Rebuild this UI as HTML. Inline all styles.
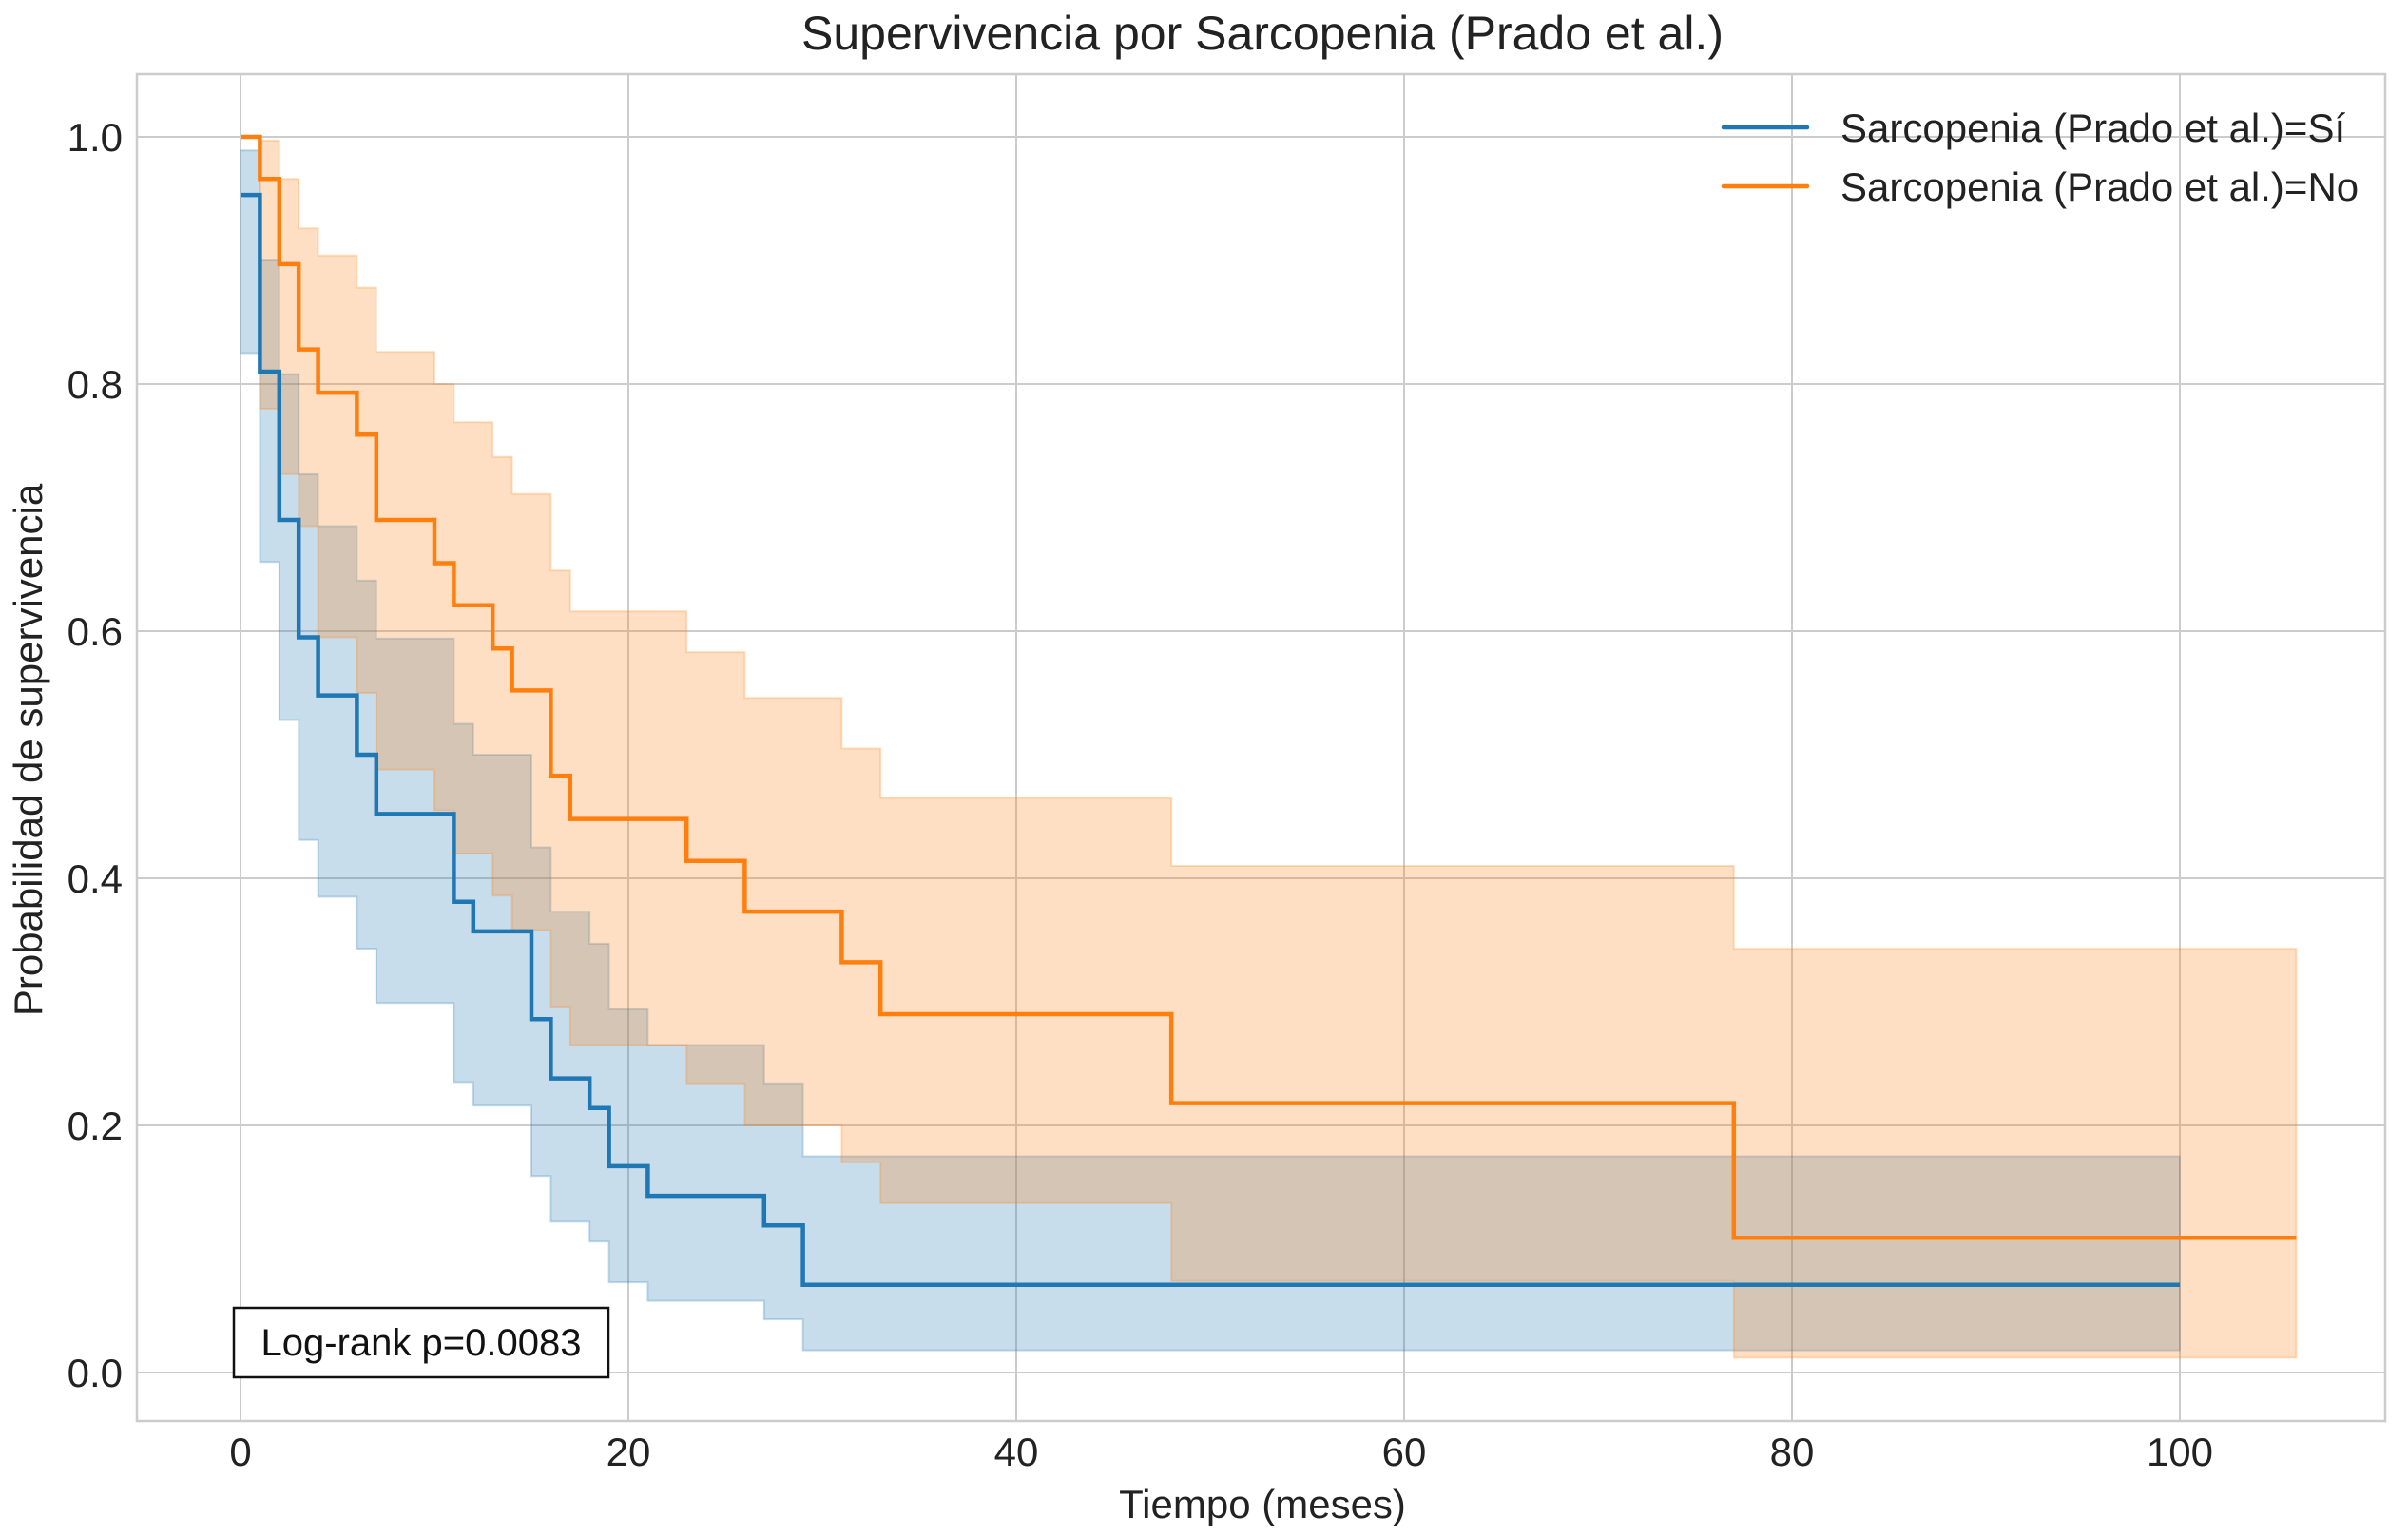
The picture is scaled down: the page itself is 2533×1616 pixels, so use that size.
<!DOCTYPE html>
<html><head><meta charset="utf-8"><style>
html,body{margin:0;padding:0;background:#fff;}
svg{display:block;font-family:"Liberation Sans",Arial,sans-serif;}
</style></head><body>
<svg id="chart" width="2533" height="1616" viewBox="0 0 2533 1616" xmlns="http://www.w3.org/2000/svg">
<rect x="0" y="0" width="2533" height="1616" fill="#fff"/>
<g id="grid"></g>
<g id="bands"></g>
<g id="lines"></g>
<rect x="144" y="78" width="2365" height="1417" fill="none" stroke="#cccccc" stroke-width="2.5"/>
<g id="ticks"></g>
<text x="1328" y="52" font-size="50" text-anchor="middle" fill="#222">Supervivencia por Sarcopenia (Prado et al.)</text>
<text x="1328" y="1597" font-size="42" text-anchor="middle" fill="#222">Tiempo (meses)</text>
<text x="0" y="0" font-size="42" text-anchor="middle" fill="#222" transform="translate(44,789) rotate(-90)">Probabilidad de supervivencia</text>
<g>
<g>
<line x1="1813" y1="134" x2="1901" y2="134" stroke="#1f77b4" stroke-width="4.5" stroke-linecap="round"/>
<text x="1936" y="149" font-size="42" fill="#222">Sarcopenia (Prado et al.)=Sí</text>
</g>
<g>
<line x1="1813" y1="196" x2="1901" y2="196" stroke="#ff7f0e" stroke-width="4.5" stroke-linecap="round"/>
<text x="1936" y="211" font-size="42" fill="#222">Sarcopenia (Prado et al.)=No</text>
</g>
</g>
<g>
<rect x="246" y="1376" width="394" height="73" fill="#fff" stroke="#111" stroke-width="2.5"/>
<text x="443" y="1426" font-size="40" text-anchor="middle" fill="#111">Log-rank p=0.0083</text>
</g>
</svg>
<script>
const xTicks = [0, 20, 40, 60, 80, 100];
const yTicks = [0.0, 0.2, 0.4, 0.6, 0.8, 1.0];
const yTickLabels = ["0.0", "0.2", "0.4", "0.6", "0.8", "1.0"];
const siTimes = [0,1,2,3,4,6,7,11,12,15,16,18,19,21,27,29,100];
const siSurv = [0.953,0.810,0.690,0.595,0.548,0.500,0.452,0.381,0.357,0.286,0.238,0.214,0.167,0.143,0.119,0.071];
const siUpper = [0.989,0.900,0.808,0.727,0.685,0.641,0.594,0.525,0.500,0.425,0.373,0.347,0.294,0.265,0.234,0.175];
const siLower = [0.825,0.656,0.528,0.431,0.385,0.343,0.299,0.235,0.216,0.159,0.122,0.106,0.073,0.058,0.043,0.018];
const noTimes = [0,1,2,3,4,6,7,10,11,13,14,16,17,23,26,31,33,48,77,106];
const noSurv = [1.0,0.966,0.897,0.828,0.793,0.759,0.690,0.655,0.621,0.586,0.552,0.483,0.448,0.414,0.373,0.332,0.290,0.218,0.109];
const noUpper = [1.0,0.997,0.966,0.926,0.904,0.878,0.826,0.800,0.769,0.741,0.711,0.649,0.616,0.583,0.546,0.505,0.465,0.410,0.343];
const noLower = [1.0,0.780,0.727,0.685,0.595,0.550,0.488,0.455,0.420,0.386,0.358,0.296,0.265,0.234,0.200,0.170,0.137,0.074,0.012];

const NS = "http://www.w3.org/2000/svg";
const X0 = 253, XS = 20.4, Y0 = 1444, YS = 1300;
function xs(t){ return X0 + t*XS; }
function ys(v){ return Y0 - v*YS; }
function mk(tag, attrs, parent){
  const e = document.createElementNS(NS, tag);
  for (const k in attrs) e.setAttribute(k, attrs[k]);
  parent.appendChild(e);
  return e;
}
const grid = document.getElementById('grid');
const ticks = document.getElementById('ticks');
xTicks.forEach(t => {
  const l = mk('line', {x1: xs(t), x2: xs(t), y1: 78, y2: 1495, stroke: '#cccccc', 'stroke-width': 2}, grid);
  
  
  const tx = mk('text', {x: xs(t), y: 1542, 'font-size': 42, 'text-anchor': 'middle', fill: '#222'}, ticks);
  tx.textContent = String(t);
  
  
});
yTicks.forEach((v, i) => {
  const l = mk('line', {x1: 144, x2: 2509, y1: ys(v), y2: ys(v), stroke: '#cccccc', 'stroke-width': 2}, grid);
  
  
  const tx = mk('text', {x: 129, y: ys(v) + 15, 'font-size': 42, 'text-anchor': 'end', fill: '#222'}, ticks);
  tx.textContent = yTickLabels[i];
  
  
});
function stepPts(times, vals){
  const pts = [];
  for (let i = 0; i < vals.length; i++){
    pts.push([xs(times[i]), ys(vals[i])]);
    pts.push([xs(times[i+1]), ys(vals[i])]);
  }
  return pts;
}
function band(times, up, lo, color, name){
  const a = stepPts(times, up), b = stepPts(times, lo).reverse();
  const d = 'M' + a.concat(b).map(p => p[0].toFixed(1) + ',' + p[1].toFixed(1)).join('L') + 'Z';
  const p = mk('path', {d: d, fill: color, 'fill-opacity': 0.25, stroke: color, 'stroke-opacity': 0.25, 'stroke-width': 2}, document.getElementById('bands'));
  
  
}
function line(times, vals, color, name){
  const pts = stepPts(times, vals);
  const d = 'M' + pts.map(p => p[0].toFixed(1) + ',' + p[1].toFixed(1)).join('L');
  const p = mk('path', {d: d, fill: 'none', stroke: color, 'stroke-width': 4.5, 'stroke-linejoin': 'miter'}, document.getElementById('lines'));
  
  
}
band(siTimes, siUpper, siLower, '#1f77b4', 'ci-band-si');
band(noTimes, noUpper, noLower, '#ff7f0e', 'ci-band-no');
line(siTimes, siSurv, '#1f77b4', 'survival-line-si');
line(noTimes, noSurv, '#ff7f0e', 'survival-line-no');
</script>
</body></html>
